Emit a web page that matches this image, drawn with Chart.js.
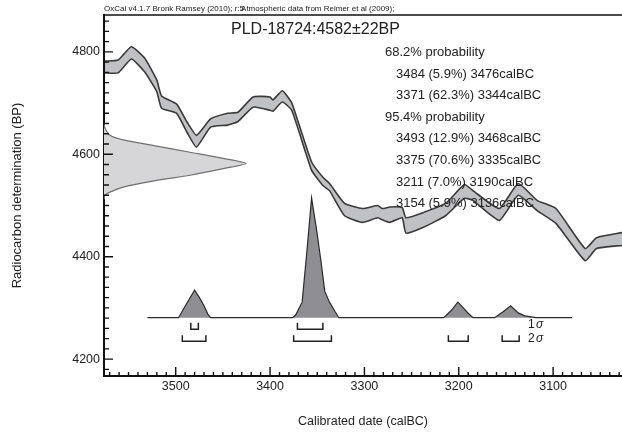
<!DOCTYPE html>
<html>
<head>
<meta charset="utf-8">
<script src="https://cdn.jsdelivr.net/npm/chart.js@4.4.0/dist/chart.umd.min.js"></script>
<style>
html,body{margin:0;padding:0;background:#fff;}
#c{display:block;}
</style>
</head>
<body>
<canvas id="c" width="622" height="436"></canvas>
<script>
// calibration curve (IntCal09): calBC year, upper / lower edge in BP
var curveYears = [3027, 3054, 3066, 3097, 3117, 3137, 3157, 3185, 3194, 3214, 3238, 3256, 3260, 3273, 3281, 3286, 3302, 3321, 3337, 3344, 3356, 3377, 3387, 3397, 3400, 3418, 3434, 3445, 3463, 3478, 3488, 3499, 3515, 3520, 3533, 3547, 3561, 3575];
var curveUpper = [4447, 4437, 4416, 4494, 4510, 4543, 4494, 4529, 4541, 4504, 4486, 4476, 4496, 4497, 4494, 4500, 4494, 4504, 4543, 4555, 4585, 4700, 4724, 4706, 4712, 4712, 4682, 4680, 4669, 4637, 4663, 4698, 4714, 4745, 4788, 4810, 4784, 4782];
var curveLower = [4422, 4416, 4392, 4465, 4490, 4520, 4471, 4510, 4514, 4480, 4457, 4446, 4476, 4467, 4472, 4476, 4467, 4480, 4529, 4539, 4569, 4686, 4702, 4684, 4686, 4692, 4664, 4657, 4653, 4614, 4643, 4680, 4690, 4722, 4761, 4786, 4759, 4759];

// radiocarbon date 4582 +/- 22 BP, shape on the y axis (relative density)
var dateBP      = [4512, 4520, 4526, 4536, 4549, 4559, 4572, 4582, 4592, 4604, 4616, 4628, 4637, 4651, 4660];
var dateDensity = [0, 0.007, 0.042, 0.136, 0.371, 0.606, 0.84, 1.0, 0.84, 0.606, 0.371, 0.136, 0.042, 0.007, 0];

// calibrated probability (relative)
var probYears  = [3080, 3118, 3130, 3137, 3145, 3153, 3162, 3185, 3190, 3195, 3201, 3208, 3216, 3327, 3331, 3337, 3342, 3346, 3351, 3356, 3361, 3366, 3373, 3376, 3463, 3466, 3470, 3475, 3480, 3489, 3497, 3530];
var probValues = [0, 0, 0.015, 0.04, 0.1, 0.05, 0, 0, 0.037, 0.08, 0.13, 0.06, 0, 0, 0.05, 0.13, 0.22, 0.47, 0.75, 1.0, 0.55, 0.13, 0.02, 0, 0, 0.03, 0.1, 0.17, 0.23, 0.11, 0, 0];

// ranges
var sigma1 = [[3484, 3476], [3371, 3344]];
var sigma1Pct = [5.9, 62.3];
var sigma2 = [[3493, 3468], [3375, 3335], [3211, 3190], [3154, 3136]];
var sigma2Pct = [12.9, 70.6, 7.0, 5.9];

var xTicks = [3500, 3400, 3300, 3200, 3100];
var yTicks = [4200, 4400, 4600, 4800];

var FONT = "'Liberation Sans', Arial, sans-serif";
Chart.defaults.font.family = FONT;
Chart.defaults.color = '#222';

function pts(xs, ys) {
    return xs.map(function (x, i) { return {x: x, y: ys[i]}; });
}

var overlay = {
    id: 'overlay',
    afterDatasetsDraw: function (chart) {
        var c = chart.ctx, sx = chart.scales.x, yp = chart.scales.yp;
        var base = yp.getPixelForValue(0);
        c.save();
        // sigma brackets
        c.strokeStyle = '#222';
        c.lineWidth = 1.5;
        function bracket(r, top, bot) {
            var a = sx.getPixelForValue(r[0]), b = sx.getPixelForValue(r[1]);
            c.beginPath();
            c.moveTo(a, top); c.lineTo(a, bot); c.lineTo(b, bot); c.lineTo(b, top);
            c.stroke();
        }
        sigma1.forEach(function (r) { bracket(r, base + 5, base + 11.5); });
        sigma2.forEach(function (r) { bracket(r, base + 17.5, base + 23.5); });
        c.fillStyle = '#222';
        c.textBaseline = 'middle';
        c.font = '12px ' + FONT;
        c.fillText('1', 528, base + 7);
        c.fillText('2', 528, base + 21);
        c.font = 'italic 12px ' + FONT;
        c.fillText('\u03c3', 536, base + 7);
        c.fillText('\u03c3', 536, base + 21);

        // header + title
        c.font = '8px ' + FONT;
        var p1 = 'OxCal v4.1.7 Bronk Ramsey (2010); r:5';
        c.fillText(p1, 104, 9);
        var w1 = c.measureText(p1).width;
        c.fillText('Atmospheric data from Reimer et al (2009);', 104 + w1 - 3, 9);
        c.font = '16px ' + FONT;
        c.fillText('PLD-18724:4582\u00b122BP', 231, 30);

        // ranges text
        c.font = '13px ' + FONT;
        var lines = [['68.2% probability', 385]];
        sigma1.forEach(function (r, i) {
            lines.push([r[0] + ' (' + sigma1Pct[i].toFixed(1) + '%) ' + r[1] + 'calBC', 396]);
        });
        lines.push(['95.4% probability', 385]);
        sigma2.forEach(function (r, i) {
            lines.push([r[0] + ' (' + sigma2Pct[i].toFixed(1) + '%) ' + r[1] + 'calBC', 396]);
        });
        lines.forEach(function (l, i) { c.fillText(l[0], l[1], 52.5 + i * 21.6); });
        c.restore();
    },
    afterDraw: function (chart) {
        var c = chart.ctx, a = chart.chartArea, sx = chart.scales.x, sy = chart.scales.y;
        c.save();
        c.strokeStyle = '#111';
        c.lineWidth = 1.4;
        c.beginPath();
        // inward ticks, x every 10 years
        for (var v = Math.ceil(sx.min / 10) * 10; v <= sx.max; v += 10) {
            var px = sx.getPixelForValue(v);
            var len = (v % 100 === 0) ? 9 : 4;
            c.moveTo(px, a.bottom); c.lineTo(px, a.bottom - len);
        }
        // y every 20 BP
        for (var w = Math.ceil(sy.min / 20) * 20; w <= sy.max; w += 20) {
            var py = sy.getPixelForValue(w);
            var l2 = (w % 200 === 0) ? 9 : 5;
            c.moveTo(a.left, py); c.lineTo(a.left + l2, py);
        }
        c.stroke();
        // top line
        c.lineWidth = 1.5;
        c.beginPath();
        c.moveTo(a.left, a.top); c.lineTo(a.right, a.top);
        c.stroke();
        c.restore();
    }
};

var ctx = document.getElementById('c');
var chart = new Chart(ctx, {
    type: 'line',
    data: {
        datasets: [{
            label: 'upper',
            data: pts(curveYears, curveUpper),
            borderColor: '#3a3a3a',
            borderWidth: 1.6,
            tension: 0.15,
            fill: false
        }, {
            label: 'lower',
            data: pts(curveYears, curveLower),
            borderColor: '#3a3a3a',
            borderWidth: 1.6,
            tension: 0.15,
            backgroundColor: '#c0c1c5',
            fill: '-1'
        }, {
            label: 'date',
            data: pts(dateDensity, dateBP),
            indexAxis: 'y',
            xAxisID: 'xd',
            yAxisID: 'y',
            borderColor: '#707070',
            borderWidth: 1.2,
            backgroundColor: '#d6d6d9',
            tension: 0.25,
            fill: 'origin'
        }, {
            label: 'prob',
            data: pts(probYears, probValues),
            yAxisID: 'yp',
            borderColor: '#2b2b2b',
            borderWidth: 1.2,
            backgroundColor: '#8f8f93',
            fill: 'origin'
        }]
    },
    options: {
        responsive: false,
        animation: false,
        events: [],
        layout: {padding: {top: 15, left: 0, right: 0, bottom: 0}},
        elements: {point: {radius: 0}, line: {tension: 0}},
        plugins: {legend: {display: false}, tooltip: {enabled: false}},
        scales: {
            x: {
                type: 'linear', position: 'bottom', reverse: true,
                min: 3027, max: 3576,
                grid: {display: false, drawTicks: false},
                border: {display: true, color: '#111', width: 2},
                afterBuildTicks: function (s) { s.ticks = xTicks.map(function (v) { return {value: v}; }); },
                ticks: {autoSkip: false, maxRotation: 0, padding: 3, color: '#222', font: {size: 12.5},
                    callback: function (v) { return String(v); }},
                title: {display: true, text: 'Calibrated date (calBC)', color: '#222', font: {size: 12.5},
                    padding: {top: 0, bottom: 7}},
                afterFit: function (s) { s.height = 60; }
            },
            y: {
                type: 'linear', position: 'left',
                min: 4167, max: 4872,
                grid: {display: false, drawTicks: false},
                border: {display: true, color: '#111', width: 2},
                afterBuildTicks: function (s) { s.ticks = yTicks.map(function (v) { return {value: v}; }); },
                ticks: {autoSkip: false, padding: 4, color: '#222', font: {size: 12.5},
                    callback: function (v) { return String(v); }},
                title: {display: true, text: 'Radiocarbon determination (BP)', color: '#222', font: {size: 13},
                    padding: {top: 10, bottom: 0}},
                afterFit: function (s) { s.width = 104; }
            },
            xd: {type: 'linear', display: false, min: 0, max: 3.65},
            yp: {type: 'linear', display: false, min: -0.487, max: 2.529}
        }
    },
    plugins: [overlay]
});
</script>
</body>
</html>
